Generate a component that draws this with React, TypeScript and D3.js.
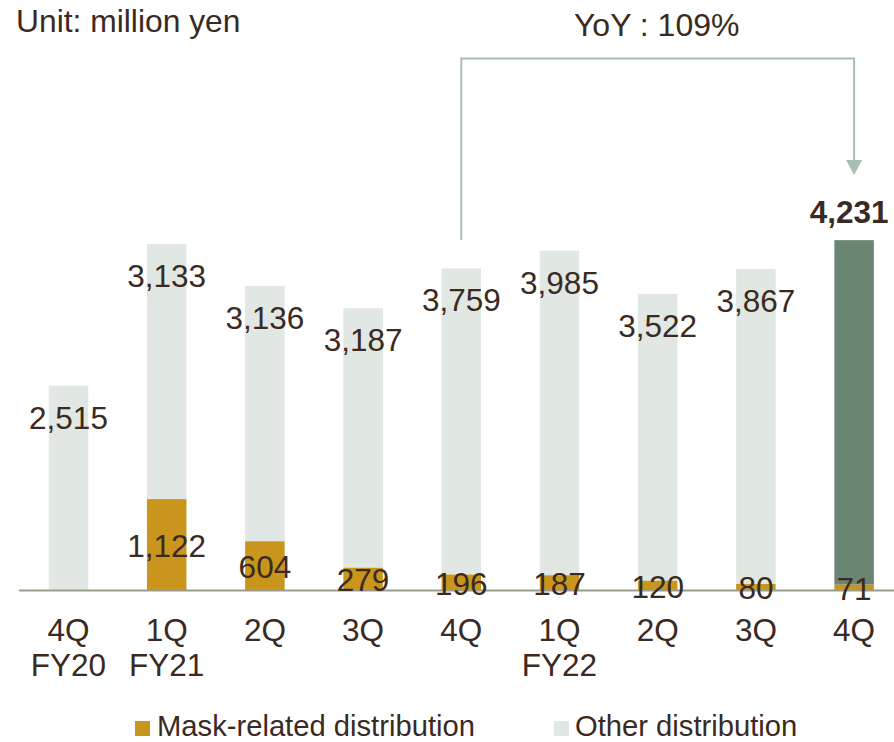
import React from 'react';
import * as d3 from 'd3';

const periods = ['4Q FY20', '1Q FY21', '2Q FY21', '3Q FY21', '4Q FY21', '1Q FY22', '2Q FY22', '3Q FY22', '4Q FY22'];
const quarterLabels = ['4Q', '1Q', '2Q', '3Q', '4Q', '1Q', '2Q', '3Q', '4Q'];
const yearLabels = ['FY20', 'FY21', '', '', '', 'FY22', '', '', ''];
const maskValues = [0, 1122, 604, 279, 196, 187, 120, 80, 71];
const otherValues = [2515, 3133, 3136, 3187, 3759, 3985, 3522, 3867, 4231];
const yoyText = 'YoY : 109%';

const width = 894;
const height = 742;
const baseY = 590.5;
const barW = 39.5;
const font = '"Liberation Sans", Arial, sans-serif';
const textColor = '#3a2a22';

const App = () => {
    const x = d3.scalePoint<string>().domain(periods).range([68.5, 854.1]);
    const y = d3.scaleLinear().domain([0, 5000]).range([baseY, baseY - 407.2]);
    const fmt = d3.format(',');
    const last = periods.length - 1;

    // arrow from 4Q FY21 to 4Q FY22
    const ax0 = x(periods[4])!;
    const ax1 = x(periods[last])!;
    const lineTop = 58.5;
    const tipY = 175;
    const arrowPath = `M${ax0},240 V${lineTop} H${ax1} V${tipY - 12}`;

    return (
        <svg width={width} height={height} style={{ position: 'absolute', left: 0, top: 0 }}
            fontFamily={font} fill={textColor}>
            <text x={16} y={32} fontSize={31.8}>Unit: million yen</text>

            {periods.map((p, i) => {
                const cx = x(p)!;
                const maskTop = y(maskValues[i]);
                const top = y(maskValues[i] + otherValues[i]);
                const isLast = i === last;
                return (
                    <g key={p}>
                        <rect x={cx - barW / 2} y={top} width={barW} height={maskTop - top}
                            fill={isLast ? '#6b8573' : '#e1e7e3'} />
                        {maskValues[i] > 0 && (
                            <rect x={cx - barW / 2} y={maskTop} width={barW} height={baseY - maskTop}
                                fill="#c9951c" />
                        )}
                    </g>
                );
            })}

            <line x1={19} x2={width} y1={baseY} y2={baseY} stroke="#9c9c8d" strokeWidth={2} />

            {periods.map((p, i) => {
                const cx = x(p)!;
                const maskTop = y(maskValues[i]);
                const top = y(maskValues[i] + otherValues[i]);
                const isLast = i === last;
                return (
                    <g key={'l' + p} fontSize={31.5} textAnchor="middle">
                        {isLast ? (
                            <text x={cx - 5} y={top - 17} fontWeight="bold">{fmt(otherValues[i])}</text>
                        ) : (
                            <text x={cx} y={top + 43}>{fmt(otherValues[i])}</text>
                        )}
                        {maskValues[i] > 0 && (
                            <text x={cx} y={(maskTop + baseY) / 2 + 12}>{fmt(maskValues[i])}</text>
                        )}
                        <text x={cx} y={640.5}>{quarterLabels[i]}</text>
                        {yearLabels[i] && <text x={cx} y={676}>{yearLabels[i]}</text>}
                    </g>
                );
            })}

            <path d={arrowPath} fill="none" stroke="#a9bfb1" strokeWidth={2} />
            <path d={`M${ax1 - 8},${tipY - 15} L${ax1 + 8},${tipY - 15} L${ax1},${tipY} Z`} fill="#a9bfb1" />
            <text x={656.7} y={36} fontSize={32}>
                <tspan textAnchor="middle">{yoyText}</tspan>
            </text>

            <rect x={135} y={721} width={15} height={15} fill="#c9951c" />
            <text x={157} y={735.5} fontSize={29.2}>Mask-related distribution</text>
            <rect x={554} y={721} width={15} height={15} fill="#e1e7e3" />
            <text x={575} y={735.5} fontSize={29.2}>Other distribution</text>
        </svg>
    );
};

export default App;
